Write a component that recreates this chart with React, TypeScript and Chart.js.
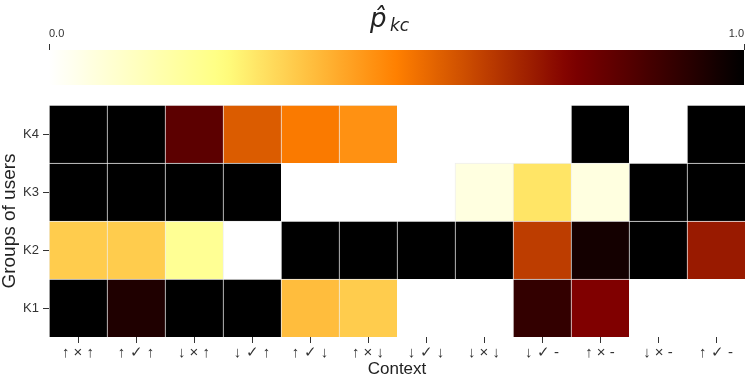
import React, { useEffect, useRef } from "react";
import { Chart, registerables } from "chart.js";

Chart.register(...registerables);

const contexts = [
  "↑ × ↑", "↑ ✓ ↑", "↓ × ↑", "↓ ✓ ↑", "↑ ✓ ↓", "↑ × ↓",
  "↓ ✓ ↓", "↓ × ↓", "↓ ✓ -", "↑ × -", "↓ × -", "↑ ✓ -",
];
const groups = ["K1", "K2", "K3", "K4"];

const k1 = [1, 0.94, 1, 1, 0.38, 0.35, null, null, 0.9, 0.75, null, null];
const k2 = [0.35, 0.35, 0.21, 0, 1, 1, 1, 1, 0.63, 0.96, 1, 0.7];
const k3 = [1, 1, 1, 1, null, null, null, 0.06, 0.3, 0.06, 1, 1];
const k4 = [1, 1, 0.82, 0.57, 0.51, 0.465, null, null, null, 1, null, 1];
const rows = [k1, k2, k3, k4];

const cbarTicks = [0, 1];

function afmhotR(v: number): string {
  const x = 1 - v;
  const c = (t: number) => Math.round(Math.max(0, Math.min(1, t)) * 255);
  return `rgb(${c(2 * x)},${c(2 * x - 0.5)},${c(2 * x - 1)})`;
}

const FONT = "'Liberation Sans', Arial, sans-serif";

export default function App() {
  const heatRef = useRef<HTMLCanvasElement>(null);
  const barRef = useRef<HTMLCanvasElement>(null);

  useEffect(() => {
    Chart.defaults.font.family = FONT;
    Chart.defaults.color = "#333";

    const heat = new Chart(heatRef.current!, {
      type: "bar",
      data: {
        labels: contexts,
        datasets: rows.map((vals, r) => ({
          label: groups[r],
          data: vals.map((v) => (v === null ? null : [r, r + 1])) as any,
          backgroundColor: vals.map((v) => (v === null ? "rgba(0,0,0,0)" : afmhotR(v))),
          borderColor: "rgba(235,235,235,0.85)",
          borderWidth: { top: 1, left: 1, right: 0, bottom: 0 } as any,
          borderSkipped: false,
          barPercentage: 1,
          categoryPercentage: 1,
          grouped: false,
        })),
      },
      options: {
        responsive: false,
        animation: false,
        layout: { padding: { top: 105, right: 2, left: 0, bottom: 0 } },
        plugins: { legend: { display: false }, tooltip: { enabled: false } },
        scales: {
          x: {
            type: "category",
            offset: true,
            grid: { drawOnChartArea: false, drawTicks: true, tickLength: 6, tickColor: "#333", offset: false },
            border: { display: false },
            ticks: { font: { size: 15 }, color: "#333", padding: 1, maxRotation: 0, autoSkip: false },
            title: {
              display: true,
              text: "Context",
              font: { size: 17, lineHeight: 1.06 },
              color: "#222",
              padding: { top: 0, bottom: 0 },
            },
            afterFit: (s: any) => {
              s.height = 41;
            },
          },
          y: {
            type: "linear",
            min: 0,
            max: 4,
            grid: { drawOnChartArea: false, drawTicks: true, tickLength: 6, tickColor: "#333" },
            border: { display: false },
            afterBuildTicks: (axis: any) => {
              axis.ticks = groups.map((_, i) => ({ value: i + 0.5 }));
            },
            ticks: {
              font: { size: 13 },
              color: "#333",
              padding: 4,
              callback: (v: any) => groups[Math.floor(Number(v))],
            },
            title: {
              display: true,
              text: "Groups of users",
              font: { size: 19, lineHeight: 1.05 },
              color: "#222",
              padding: { top: 0, bottom: 0 },
            },
            afterFit: (s: any) => {
              s.width = 49;
            },
          },
        },
      },
    });

    const gradientPlugin = {
      id: "cbarGradient",
      beforeDatasetsDraw(chart: any) {
        const { ctx, chartArea: a } = chart;
        const g = ctx.createLinearGradient(a.left, 0, a.right, 0);
        for (let i = 0; i <= 50; i++) g.addColorStop(i / 50, afmhotR(i / 50));
        ctx.save();
        ctx.fillStyle = g;
        ctx.fillRect(a.left, a.top, a.right - a.left, a.bottom - a.top);
        ctx.restore();
      },
      afterDraw(chart: any) {
        const { ctx } = chart;
        ctx.save();
        ctx.fillStyle = "#222";
        ctx.textBaseline = "alphabetic";
        ctx.textAlign = "left";
        ctx.font = "italic 26px 'DejaVu Sans'";
        ctx.fillText("p\u0302", 370, 27);
        ctx.font = "italic 17px 'DejaVu Sans'";
        ctx.fillText("kc", 390, 31);
        ctx.restore();
      },
    };

    const cbar = new Chart(barRef.current!, {
      type: "scatter",
      data: { datasets: [] },
      options: {
        responsive: false,
        animation: false,
        layout: { padding: { top: 0, left: 49, right: 2, bottom: 293 } },
        plugins: { legend: { display: false }, tooltip: { enabled: false } },
        scales: {
          x: {
            type: "linear",
            position: "top",
            min: 0,
            max: 1,
            afterBuildTicks: (axis: any) => {
              axis.ticks = cbarTicks.map((v) => ({ value: v }));
            },
            grid: { drawOnChartArea: false, drawTicks: true, tickLength: 6, tickColor: "#333" },
            border: { display: false },
            ticks: {
              align: "inner",
              font: { size: 11 },
              color: "#333",
              padding: 3,
              maxRotation: 0,
              callback: (v: any) => Number(v).toFixed(1),
            },
            afterFit: (s: any) => {
              s.height = 50;
            },
          },
          y: { display: false },
        },
      },
      plugins: [gradientPlugin],
    });

    return () => {
      heat.destroy();
      cbar.destroy();
    };
  }, []);

  return (
    <div style={{ position: "fixed", left: 0, top: 0, width: 747, height: 378, background: "#fff" }}>
      <canvas ref={barRef} width={747} height={378} style={{ position: "absolute", left: 0, top: 0 }} />
      <canvas ref={heatRef} width={747} height={378} style={{ position: "absolute", left: 0, top: 0 }} />
    </div>
  );
}
